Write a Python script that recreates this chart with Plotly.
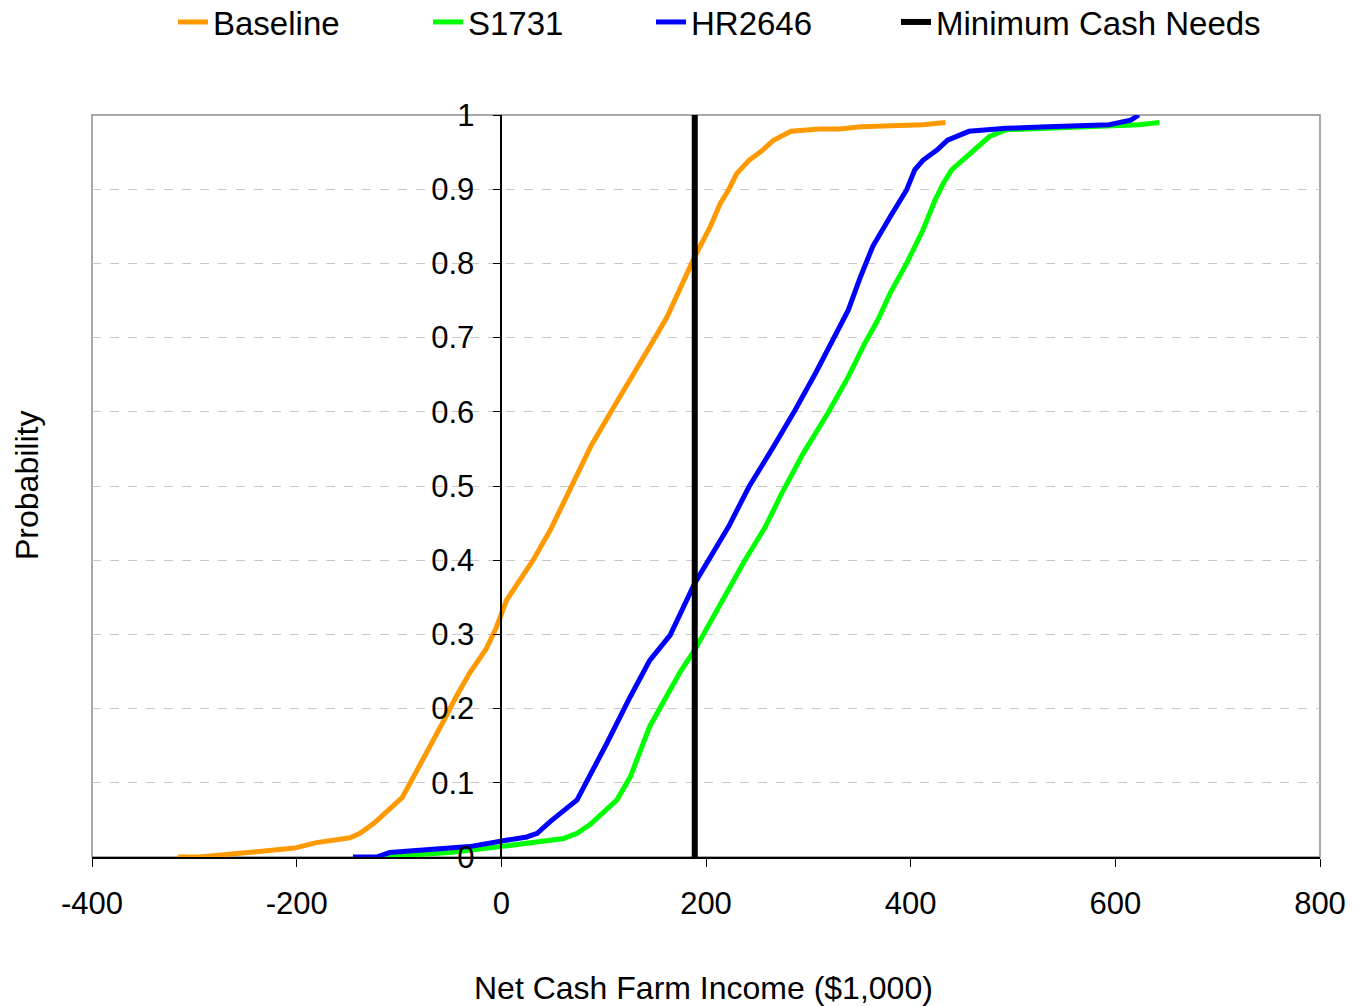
import plotly.graph_objects as go

# Cumulative distribution data (Net Cash Farm Income in $1,000, probability)
baseline_x = [-316, -295, -202, -182, -148, -138, -124, -104, -97, -89, -70, -55, -45, -31, -15, -5, 5,
              31, 48, 68, 88, 108, 132, 149, 162, 175, 189, 204, 214, 222, 230, 242, 254, 266, 283, 311, 331, 351, 412, 434]
baseline_y = [0.0, 0.0, 0.012, 0.019, 0.026, 0.032, 0.046, 0.07, 0.08, 0.10, 0.147, 0.187, 0.214, 0.248, 0.28, 0.309, 0.346,
              0.40, 0.441, 0.499, 0.555, 0.602, 0.656, 0.697, 0.728, 0.768, 0.809, 0.849, 0.881, 0.899, 0.921, 0.939, 0.951, 0.966, 0.978, 0.981, 0.981, 0.984, 0.987, 0.990]

s1731_x = [-120, -50, -1, 25, 61, 74, 87, 113, 126, 145, 160, 175, 189, 218, 238, 258, 274, 295, 319, 339, 355, 368, 380, 396,
           412, 424, 432, 440, 453, 469, 477, 493, 574, 623, 643]
s1731_y = [0.0, 0.006, 0.014, 0.019, 0.025, 0.032, 0.044, 0.077, 0.108, 0.176, 0.212, 0.25, 0.279, 0.351, 0.400, 0.445, 0.490, 0.544, 0.598, 0.647, 0.692, 0.724, 0.760, 0.800,
           0.845, 0.886, 0.908, 0.926, 0.942, 0.960, 0.971, 0.980, 0.984, 0.987, 0.990]

hr2646_x = [-145, -122, -109, -31, 2, 25, 35, 48, 74, 90, 103, 126, 145, 165, 181, 189, 222, 242, 266, 287, 307, 331, 339, 351,
            363, 380, 396, 404, 412, 426, 436, 457, 493, 534, 574, 594, 615, 623]
hr2646_y = [0.0, 0.0, 0.006, 0.014, 0.022, 0.027, 0.032, 0.048, 0.077, 0.117, 0.153, 0.216, 0.265, 0.299, 0.346, 0.369, 0.445, 0.499, 0.553, 0.602, 0.652, 0.715, 0.737, 0.782,
            0.823, 0.863, 0.899, 0.926, 0.939, 0.953, 0.966, 0.978, 0.982, 0.984, 0.987, 0.987, 0.993, 1.0]

min_cash_x = [189, 189]
min_cash_y = [0, 1]

x_ticks = [-400, -200, 0, 200, 400, 600, 800]
x_labels = ["-400", "-200", "0", "200", "400", "600", "800"]
y_ticks = [0, 0.1, 0.2, 0.3, 0.4, 0.5, 0.6, 0.7, 0.8, 0.9, 1]
y_labels = ["0", "0.1", "0.2", "0.3", "0.4", "0.5", "0.6", "0.7", "0.8", "0.9", "1"]

FONT = "Liberation Sans, Arial, sans-serif"
W, H = 1354, 1006
ML, MR, MT, MB = 92, 34, 115, 149
PW = W - ML - MR
PH = H - MT - MB

def px_to_paper_x(px):
    return (px - ML) / PW

fig = go.Figure()
series = [
    (baseline_x, baseline_y, "Baseline", "#FF9900", 5, "legend"),
    (s1731_x, s1731_y, "S1731", "#00FF00", 5, "legend2"),
    (hr2646_x, hr2646_y, "HR2646", "#0000FF", 5, "legend3"),
    (min_cash_x, min_cash_y, "Minimum Cash Needs", "#000000", 6, "legend4"),
]
for xs, ys, name, color, width, lg in series:
    fig.add_trace(go.Scatter(x=xs, y=ys, mode="lines", name=name, legend=lg,
                             line=dict(color=color, width=width)))

legend_text_px = [215, 470, 693, 938]
legend_common = dict(orientation="v", yref="container", y=1 - 22 / H, yanchor="middle",
                     xanchor="left", font=dict(size=33, family=FONT), bgcolor="rgba(0,0,0,0)")
legends = {}
for i, tx in enumerate(legend_text_px):
    key = "legend" if i == 0 else f"legend{i+1}"
    legends[key] = dict(legend_common, x=px_to_paper_x(tx - 42))

fig.update_layout(
    width=W, height=H,
    margin=dict(l=ML, r=MR, t=MT, b=MB, autoexpand=False),
    paper_bgcolor="white", plot_bgcolor="white",
    font=dict(family=FONT, size=31, color="black"),
    showlegend=True,
    **legends,
    xaxis=dict(range=[-400, 800], tickvals=x_ticks, ticktext=x_labels, ticks="outside", ticklen=8,
               tickcolor="black", showline=True, linecolor="black", linewidth=1.5,
               showgrid=False, zeroline=False, tickfont=dict(size=31), automargin=False,
               ticklabelstandoff=10),
    yaxis=dict(range=[0, 1], tickvals=y_ticks, ticktext=y_labels, ticks="outside", ticklen=8,
               tickcolor="black", showline=True, linecolor="black", linewidth=1.5,
               anchor="free", position=1/3, showgrid=True, gridcolor="#c8c8c8",
               griddash="dash", gridwidth=1, zeroline=False, tickfont=dict(size=31),
               automargin=False, ticklabelstandoff=12),
    shapes=[dict(type="rect", xref="paper", yref="paper", x0=0, y0=0, x1=1, y1=1,
                 line=dict(color="#8c8c8c", width=1.5), layer="below")],
    annotations=[
        dict(text="Probability", xref="paper", yref="paper", x=px_to_paper_x(27), y=0.5,
             textangle=-90, showarrow=False, font=dict(size=32),
             xanchor="center", yanchor="middle"),
        dict(text="Net Cash Farm Income ($1,000)", xref="paper", yref="paper",
             x=px_to_paper_x(703), y=-(988 - (H - MB)) / PH, showarrow=False, font=dict(size=32),
             xanchor="center", yanchor="middle"),
    ],
)

fig.write_html("out.html", config={"displayModeBar": False},
               post_script="document.body.style.margin='0';document.body.style.overflow='hidden';")
